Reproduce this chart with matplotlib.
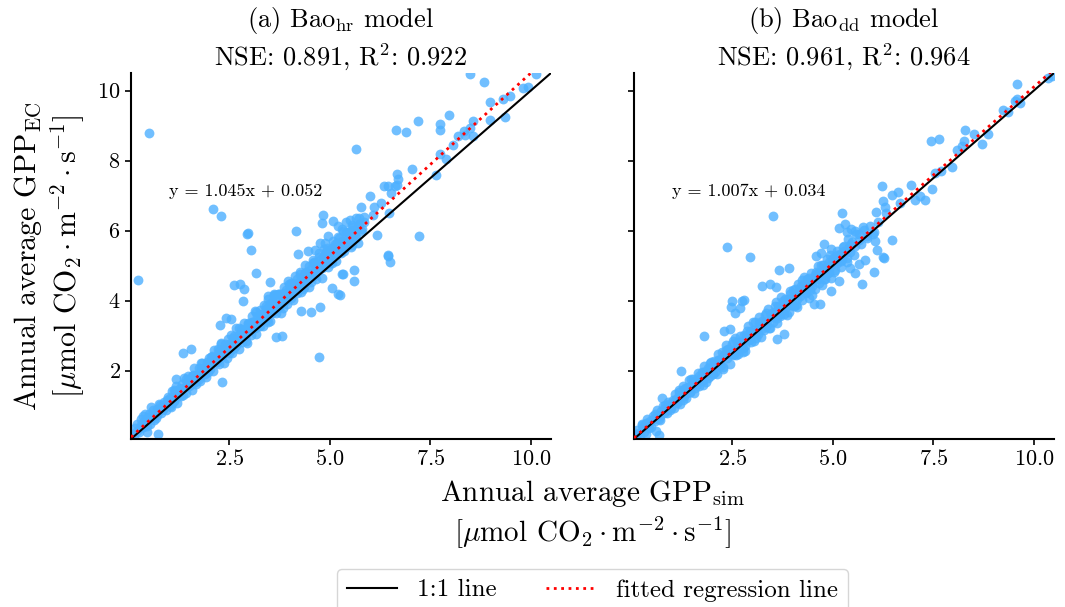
import numpy as np
import matplotlib
matplotlib.use("Agg")
import matplotlib.pyplot as plt
from matplotlib.lines import Line2D

plt.rcParams['font.family'] = 'serif'
plt.rcParams['font.serif'] = ['cmr10']
plt.rcParams['mathtext.fontset'] = 'cm'
plt.rcParams['axes.formatter.use_mathtext'] = True

# (simulated, EC) pairs
band_a = [
    (0.08, 0.19), (0.12, 0.14), (0.15, 0.36), (0.19, 0.27), (0.21, 0.47), (0.26, 0.26), (0.29, 0.45), (0.31, 0.62),
    (0.36, 0.40), (0.37, 0.55), (0.41, 0.75), (0.44, 0.42), (0.46, 0.58), (0.51, 0.75), (0.53, 0.49), (0.57, 0.72),
    (0.59, 0.87), (0.63, 0.70), (0.66, 0.65), (0.69, 0.91), (0.72, 0.82), (0.74, 1.04), (0.79, 0.80), (0.81, 1.00),
    (0.84, 0.92), (0.87, 1.12), (0.91, 0.88), (0.94, 1.08), (0.97, 1.24),
    (1.01, 1.21), (1.03, 0.98), (1.06, 1.41), (1.09, 1.21), (1.11, 1.13), (1.14, 1.42), (1.17, 1.57), (1.19, 1.09),
    (1.23, 1.39), (1.26, 1.50), (1.27, 1.32), (1.31, 1.63), (1.34, 1.32), (1.36, 1.79), (1.39, 1.53), (1.43, 1.35),
    (1.44, 1.69), (1.47, 1.84), (1.51, 1.59), (1.53, 1.72), (1.56, 1.44), (1.59, 1.89), (1.61, 2.07), (1.64, 1.68),
    (1.67, 1.89), (1.71, 1.82), (1.73, 2.08), (1.76, 1.72), (1.79, 2.06), (1.82, 2.23), (1.84, 1.91), (1.87, 2.05),
    (1.91, 1.81), (1.93, 2.25), (1.96, 2.11), (1.99, 2.37),
    (2.01, 2.05), (2.04, 2.38), (2.06, 2.25), (2.09, 1.98), (2.12, 2.58), (2.14, 2.40), (2.17, 2.26), (2.21, 2.61),
    (2.23, 2.19), (2.26, 2.48), (2.28, 2.80), (2.31, 2.43), (2.34, 2.63), (2.37, 2.23), (2.39, 2.75), (2.42, 2.59),
    (2.46, 2.90), (2.48, 2.50), (2.51, 2.75), (2.53, 3.02), (2.57, 2.51), (2.59, 2.79), (2.62, 3.00), (2.64, 2.70),
    (2.67, 3.21), (2.71, 2.99), (2.73, 2.63), (2.76, 2.92), (2.78, 3.20), (2.81, 2.81), (2.84, 3.16), (2.86, 3.36),
    (2.89, 2.97), (2.92, 3.16), (2.94, 2.78), (2.97, 3.33),
    (3.01, 3.25), (3.04, 3.01), (3.06, 3.55), (3.09, 3.40), (3.11, 3.22), (3.14, 3.71), (3.17, 3.06), (3.19, 3.56),
    (3.22, 3.43), (3.25, 3.29), (3.27, 3.72), (3.31, 3.58), (3.33, 3.27), (3.36, 3.88), (3.38, 3.53), (3.41, 3.75),
    (3.44, 3.45), (3.47, 4.06), (3.49, 3.74), (3.52, 3.43), (3.55, 3.96), (3.57, 3.66), (3.61, 3.92), (3.63, 4.17),
    (3.66, 3.65), (3.68, 3.90), (3.71, 4.18), (3.74, 3.81), (3.77, 4.12), (3.79, 3.66), (3.82, 4.09), (3.85, 4.40),
    (3.87, 4.00), (3.91, 4.30), (3.93, 3.90), (3.96, 4.25), (3.98, 4.47),
    (4.01, 4.12), (4.03, 4.51), (4.06, 4.34), (4.09, 4.02), (4.12, 4.71), (4.14, 4.47), (4.17, 4.22), (4.19, 4.62),
    (4.22, 4.40), (4.26, 4.81), (4.28, 4.25), (4.31, 4.68), (4.33, 4.58), (4.36, 4.39), (4.39, 5.02), (4.41, 4.72),
    (4.44, 4.57), (4.47, 4.98), (4.49, 4.38), (4.52, 4.91), (4.55, 4.78), (4.58, 5.15), (4.61, 4.69), (4.63, 5.08),
    (4.66, 4.61), (4.69, 4.98), (4.72, 5.25), (4.74, 4.89), (4.77, 5.18), (4.79, 4.66), (4.83, 5.18), (4.86, 5.47),
    (4.88, 5.09), (4.91, 5.38), (4.94, 4.95), (4.97, 5.30),
    (5.01, 5.44), (5.04, 5.07), (5.07, 5.70), (5.10, 5.33), (5.13, 5.63), (5.16, 5.12), (5.19, 5.55), (5.22, 5.80),
    (5.26, 5.39), (5.29, 5.69), (5.32, 5.98), (5.35, 5.43), (5.38, 5.68), (5.42, 5.96), (5.45, 5.63), (5.49, 5.95),
    (5.52, 5.52), (5.56, 6.17), (5.60, 5.93), (5.64, 5.80), (5.69, 6.17), (5.73, 6.37), (5.78, 6.00), (5.84, 6.26),
    (1.55, 1.70), (1.74, 1.77), (1.95, 2.20), (2.15, 2.27), (2.33, 2.58), (2.55, 2.59), (2.70, 2.93), (2.88, 3.06),
    (3.05, 3.38), (3.21, 3.35), (3.35, 3.63), (3.52, 3.91), (3.69, 3.87), (3.84, 4.18), (3.97, 4.10), (4.11, 4.41),
    (4.24, 4.34), (4.38, 4.79), (4.53, 4.77), (4.65, 5.01), (4.81, 5.00), (4.96, 5.27), (5.12, 5.52), (5.28, 5.51),
    (5.41, 5.78), (0.55, 0.66), (0.85, 0.90), (1.25, 1.41), (1.18, 1.25), (2.44, 2.61), (3.45, 3.61), (4.45, 4.75),
    (0.33, 0.38), (0.48, 0.68), (0.61, 0.59), (0.77, 1.02), (0.89, 1.04), (1.04, 0.96), (1.13, 1.45), (1.21, 1.39),
    (1.29, 1.29), (1.41, 1.77), (1.49, 1.57), (1.57, 1.84), (1.66, 1.61), (1.78, 2.23), (1.86, 2.05), (1.97, 1.97),
    (2.07, 2.42), (2.19, 2.26), (2.29, 2.76), (2.36, 2.53), (2.44, 2.37), (2.58, 2.94), (2.66, 2.74), (2.74, 3.22),
    (2.83, 3.09), (2.91, 2.85), (2.99, 3.33), (3.08, 3.24), (3.15, 3.69), (3.24, 3.28), (3.32, 3.62), (3.40, 3.84),
    (3.46, 3.38), (3.54, 3.83), (3.60, 4.15), (3.70, 3.81), (3.76, 4.19), (3.83, 3.78), (3.89, 4.22), (3.95, 4.56),
    (4.04, 4.09), (4.10, 4.47), (4.18, 4.37), (4.25, 4.76), (4.32, 4.33), (4.40, 4.81), (4.46, 4.75), (4.54, 4.52),
    (4.60, 5.10), (4.67, 4.87), (4.73, 5.37), (4.80, 4.92), (4.87, 5.23), (4.93, 5.51), (5.00, 5.08), (5.06, 5.50),
    (5.14, 5.36), (5.21, 5.81), (5.27, 5.41), (5.34, 5.66), (5.40, 5.96), (5.47, 5.65), (5.55, 6.03), (5.63, 5.89),
    (5.71, 6.11),
    (0.42, 0.60), (0.70, 0.74), (0.95, 1.17), (1.08, 1.08), (1.33, 1.47), (1.46, 1.72), (1.62, 1.69), (1.81, 2.06),
    (1.89, 1.90), (2.03, 2.24), (2.24, 2.57), (2.41, 2.52), (2.49, 2.76), (2.61, 2.65), (2.79, 3.07), (2.96, 3.36),
    (3.13, 3.23), (3.28, 3.50), (3.43, 3.77), (3.58, 3.77), (3.72, 4.19), (3.87, 4.12), (4.00, 4.41), (4.15, 4.28),
    (4.28, 4.63), (4.43, 4.72), (4.57, 5.07), (4.70, 4.92), (4.84, 5.28), (4.99, 5.27), (5.17, 5.65), (5.31, 5.67),
    (5.50, 5.70),
]
outliers_a = [
    (0.51, 8.79), (2.08, 6.63), (2.28, 6.43), (2.93, 5.90), (2.95, 5.92), (3.04, 5.46), (4.15, 6.00), (4.83, 6.45),
    (4.81, 6.22), (5.08, 6.27), (5.20, 6.13), (4.95, 5.84), (4.87, 5.65), (4.75, 5.65), (4.62, 5.46), (4.46, 5.42),
    (4.21, 5.32), (8.48, 10.48), (8.84, 10.25), (10.12, 10.48), (9.92, 10.09), (9.80, 10.06), (9.48, 9.83),
    (9.31, 9.76), (8.99, 9.67), (9.36, 9.23), (8.99, 9.16), (8.55, 9.13), (7.96, 9.29), (7.20, 9.13), (7.73, 9.04),
    (7.73, 8.86), (6.64, 8.86), (6.88, 8.81), (8.49, 8.93), (8.34, 8.85), (8.36, 8.72), (8.55, 8.71), (8.19, 8.71),
    (8.05, 8.45), (5.65, 8.34), (7.74, 8.20), (7.89, 8.04), (7.63, 7.58), (7.05, 7.77), (6.67, 7.63), (6.69, 7.46),
    (6.67, 7.31), (6.34, 7.27), (6.44, 7.27), (6.61, 7.27), (6.53, 7.06), (5.99, 7.00), (6.26, 6.79), (6.09, 6.67),
    (6.07, 6.44), (5.77, 6.67), (6.46, 6.49), (6.17, 5.87), (7.21, 5.84), (6.44, 5.31), (5.30, 6.05), (5.40, 6.25),
    (5.50, 6.30), (5.58, 6.10), (5.65, 6.35), (5.72, 6.20), (5.80, 6.05), (5.85, 6.40), (5.45, 5.75), (5.55, 5.60),
    (5.62, 5.85), (5.70, 5.65), (5.35, 5.50), (5.28, 5.35), (6.45, 5.27), (6.50, 5.09), (5.32, 4.75), (5.60, 4.87),
    (5.59, 4.56), (5.25, 4.16), (0.22, 4.58), (3.16, 4.78), (2.62, 4.44), (2.75, 4.47), (2.87, 4.33), (2.83, 3.99),
    (3.51, 4.52), (3.45, 4.14), (3.62, 4.18), (2.27, 3.31), (2.41, 3.50), (2.54, 3.47), (1.35, 2.51), (1.54, 2.63),
    (1.16, 1.77), (2.31, 1.69), (3.66, 2.97), (3.80, 3.00), (4.73, 2.38), (4.52, 3.68), (4.75, 3.82), (4.29, 3.71),
    (5.04, 4.37), (5.20, 4.18), (5.29, 4.75), (0.72, 0.20), (0.45, 0.25), (0.30, 0.40), (0.35, 0.70), (0.55, 0.95),
]

# (simulated, EC) pairs
band_b = [
    (0.06, 0.16), (0.10, 0.11), (0.13, 0.31), (0.17, 0.23), (0.20, 0.16), (0.24, 0.46), (0.27, 0.36), (0.31, 0.25),
    (0.34, 0.50), (0.38, 0.62), (0.41, 0.40), (0.45, 0.57), (0.48, 0.40), (0.52, 0.71), (0.55, 0.61), (0.58, 0.56),
    (0.62, 0.88), (0.65, 0.73), (0.69, 0.59), (0.72, 0.86), (0.76, 0.98), (0.79, 0.79), (0.83, 0.94), (0.86, 0.80),
    (0.90, 1.10), (0.93, 0.98), (0.97, 0.94),
    (1.01, 1.17), (1.04, 0.93), (1.07, 1.33), (1.10, 1.16), (1.13, 1.09), (1.16, 1.38), (1.20, 1.04), (1.22, 1.32),
    (1.26, 1.55), (1.29, 1.29), (1.32, 1.50), (1.35, 1.21), (1.38, 1.50), (1.42, 1.74), (1.45, 1.39), (1.48, 1.55),
    (1.51, 1.75), (1.54, 1.36), (1.58, 1.72), (1.61, 1.63), (1.64, 1.94), (1.67, 1.57), (1.70, 1.80), (1.74, 1.96),
    (1.77, 1.73), (1.80, 2.14), (1.83, 1.69), (1.86, 1.94), (1.90, 2.09), (1.93, 1.85), (1.96, 2.24), (1.99, 2.03),
    (2.02, 1.91), (2.05, 2.29), (2.08, 2.17), (2.11, 1.90), (2.14, 2.48), (2.17, 2.31), (2.21, 2.17), (2.24, 2.54),
    (2.27, 2.11), (2.30, 2.46), (2.33, 2.72), (2.36, 2.35), (2.40, 2.62), (2.43, 2.19), (2.46, 2.58), (2.49, 2.77),
    (2.52, 2.44), (2.56, 2.92), (2.59, 2.61), (2.62, 2.81), (2.65, 2.47), (2.68, 3.00), (2.72, 2.80), (2.75, 2.64),
    (2.78, 3.02), (2.81, 2.55), (2.84, 2.98), (2.88, 3.28), (2.91, 2.87), (2.94, 3.14), (2.97, 2.81),
    (3.01, 3.15), (3.04, 2.86), (3.07, 3.39), (3.10, 3.16), (3.13, 3.05), (3.16, 3.54), (3.20, 2.96), (3.23, 3.42),
    (3.26, 3.35), (3.29, 3.15), (3.32, 3.60), (3.35, 3.33), (3.39, 3.75), (3.42, 3.21), (3.45, 3.61), (3.48, 3.52),
    (3.51, 3.40), (3.55, 3.85), (3.58, 3.70), (3.61, 3.35), (3.64, 3.86), (3.67, 3.61), (3.71, 4.10), (3.74, 3.80),
    (3.77, 3.61), (3.80, 4.06), (3.83, 3.82), (3.87, 4.05), (3.90, 3.68), (3.93, 4.27), (3.96, 3.88), (3.99, 4.09),
    (4.02, 3.86), (4.05, 4.34), (4.08, 4.16), (4.11, 3.83), (4.14, 4.48), (4.17, 4.13), (4.21, 4.41), (4.24, 4.03),
    (4.27, 4.67), (4.30, 4.36), (4.33, 4.22), (4.36, 4.62), (4.40, 4.09), (4.43, 4.57), (4.46, 4.78), (4.49, 4.43),
    (4.52, 4.61), (4.56, 4.32), (4.59, 4.81), (4.62, 5.00), (4.65, 4.51), (4.68, 4.78), (4.72, 4.46), (4.75, 5.01),
    (4.78, 4.82), (4.81, 4.63), (4.84, 5.18), (4.88, 4.80), (4.91, 5.09), (4.94, 4.64), (4.97, 5.09),
    (5.01, 5.23), (5.05, 4.87), (5.09, 5.43), (5.13, 5.12), (5.17, 5.33), (5.21, 4.95), (5.25, 5.54), (5.29, 5.35),
    (5.34, 5.22), (5.38, 5.76), (5.43, 5.39), (5.48, 5.68), (5.53, 5.31), (5.58, 5.90), (5.64, 5.73), (5.70, 5.62),
    (5.77, 6.01), (5.85, 5.85), (5.93, 6.12), (6.02, 5.96), (6.12, 6.24),
    (1.50, 1.59), (1.72, 1.70), (1.92, 2.06), (2.12, 2.14), (2.35, 2.47), (2.55, 2.49), (2.75, 2.83), (2.95, 3.11),
    (3.12, 3.10), (3.30, 3.36), (3.48, 3.66), (3.66, 3.62), (3.82, 3.92), (3.98, 3.90), (4.15, 4.29), (4.30, 4.30),
    (4.48, 4.54), (4.64, 4.80), (4.80, 4.74), (4.95, 5.03), (5.10, 5.08), (5.28, 5.42), (0.60, 0.67), (0.88, 0.88),
    (1.15, 1.24), (1.35, 1.36), (2.25, 2.35), (3.55, 3.54), (4.38, 4.49),
    (0.29, 0.41), (0.43, 0.37), (0.57, 0.75), (0.70, 0.70), (0.81, 1.03), (0.95, 0.87), (1.06, 1.16), (1.18, 1.44),
    (1.27, 1.15), (1.40, 1.54), (1.47, 1.77), (1.56, 1.52), (1.66, 1.86), (1.76, 1.60), (1.85, 1.93), (1.95, 2.23),
    (2.06, 1.96), (2.15, 2.31), (2.26, 2.04), (2.34, 2.58), (2.42, 2.48), (2.51, 2.85), (2.60, 2.46), (2.69, 2.81),
    (2.77, 2.53), (2.86, 3.12), (2.93, 2.91), (3.02, 3.38), (3.09, 2.93), (3.18, 3.36), (3.27, 3.21), (3.34, 3.66),
    (3.43, 3.23), (3.50, 3.60), (3.59, 3.97), (3.69, 3.57), (3.76, 3.98), (3.85, 3.59), (3.92, 4.06), (4.00, 4.30),
    (4.07, 3.89), (4.16, 4.24), (4.23, 4.59), (4.32, 4.24), (4.41, 4.65), (4.47, 4.17), (4.55, 4.73), (4.63, 4.61),
    (4.70, 5.02), (4.77, 4.61), (4.86, 5.00), (4.93, 5.31), (5.03, 4.81), (5.11, 5.31), (5.19, 5.13), (5.27, 5.55),
    (5.36, 5.10), (5.45, 5.61), (5.55, 5.55), (5.66, 5.90),
    (0.40, 0.50), (0.67, 0.63), (0.92, 1.06), (1.11, 1.11), (1.30, 1.46), (1.44, 1.38), (1.60, 1.69), (1.79, 1.97),
    (1.88, 1.80), (2.00, 2.12), (2.19, 2.17), (2.38, 2.58), (2.47, 2.49), (2.64, 2.78), (2.81, 2.71), (2.99, 3.09),
    (3.15, 3.37), (3.33, 3.29), (3.46, 3.62), (3.62, 3.50), (3.79, 3.87), (3.94, 4.18), (4.10, 4.04), (4.26, 4.44),
    (4.44, 4.30), (4.58, 4.70), (4.72, 4.76), (4.90, 4.82), (5.06, 5.26), (5.22, 5.20), (5.40, 5.54),
]
outliers_b = [
    (3.50, 6.41), (2.36, 5.53), (2.93, 5.26), (5.23, 6.49), (5.16, 6.08), (5.29, 6.18), (4.77, 5.61), (4.95, 5.48),
    (4.70, 5.37), (4.57, 5.27), (9.58, 10.19), (9.57, 9.75), (9.65, 9.64), (9.52, 9.71), (10.35, 10.35),
    (10.46, 10.42), (9.22, 9.43), (9.35, 9.40), (8.29, 8.86), (7.45, 8.57), (7.63, 8.61), (8.52, 8.76), (8.72, 8.48),
    (8.86, 8.76), (8.25, 8.55), (8.21, 8.42), (8.09, 8.31), (7.97, 7.81), (7.55, 7.65), (7.68, 7.69), (7.46, 7.20),
    (6.94, 7.29), (6.63, 7.09), (6.46, 7.03), (6.21, 7.27), (7.05, 6.86), (7.30, 6.87), (7.17, 6.98), (6.67, 6.79),
    (6.25, 6.84), (6.29, 6.68), (6.33, 6.51), (6.07, 6.54), (6.46, 5.73), (6.09, 5.46), (6.25, 5.26), (5.35, 5.95),
    (5.45, 6.05), (5.55, 5.98), (5.75, 6.10), (5.85, 5.80), (6.00, 5.90), (6.05, 5.70), (6.28, 5.21), (6.03, 4.82),
    (5.72, 4.47), (5.56, 4.78), (5.80, 5.15), (5.65, 5.06), (5.42, 4.94), (1.78, 2.99), (1.23, 2.00), (0.75, 1.21),
    (2.50, 3.99), (2.73, 3.99), (2.78, 4.02), (2.46, 3.81), (2.56, 3.64), (2.68, 3.78), (2.29, 3.12), (2.43, 3.19),
    (3.66, 4.87), (3.90, 4.92), (3.23, 4.42), (3.44, 4.47), (3.58, 4.40), (3.77, 3.05), (3.60, 2.90), (4.53, 3.90),
    (4.68, 3.90), (4.95, 4.28), (5.16, 4.56), (0.67, 0.15), (0.59, 0.29), (0.26, 0.49), (0.34, 0.20), (0.09, 0.20),
]

titles = [r'(a) Bao$_{\mathrm{hr}}$ model' + '\n' + r'NSE: 0.891, R$^{2}$: 0.922',
          r'(b) Bao$_{\mathrm{dd}}$ model' + '\n' + r'NSE: 0.961, R$^{2}$: 0.964']
slopes = [1.045, 1.007]
intercepts = [0.052, 0.034]
lims = (0.05, 10.5)
unit = r'[$\mu$mol CO$_2\cdot$m$^{-2}\cdot$s$^{-1}$]'

fig = plt.figure(figsize=(10.65, 6.07), dpi=100)
ax1 = fig.add_axes([131 / 1065, 1 - 439 / 607, 420 / 1065, 366 / 607])
ax2 = fig.add_axes([634 / 1065, 1 - 439 / 607, 420 / 1065, 366 / 607], sharey=ax1)

for ax, pts, extra, title, k, b in zip([ax1, ax2], [band_a, band_b], [outliers_a, outliers_b],
                                       titles, slopes, intercepts):
    data = np.array(pts + extra)
    ax.scatter(data[:, 0], data[:, 1], s=50, color='#4db0ff', alpha=0.8, linewidths=0, zorder=2)
    xx = np.array(lims)
    ax.plot(xx, xx, color='black', lw=1.5, zorder=3)
    ax.plot(xx, k * xx + b, color='red', ls=':', lw=2, zorder=4)
    ax.text(1.0, 7.12, 'y = %.3fx + %.3f' % (k, b), fontsize=13, va='center', ha='left')
    ax.set_xlim(lims)
    ax.set_ylim(lims)
    ax.set_xticks([2.5, 5.0, 7.5, 10.0])
    ax.set_yticks([2, 4, 6, 8, 10])
    ax.tick_params(labelsize=16, width=1.2, length=4)
    ax.spines['top'].set_visible(False)
    ax.spines['right'].set_visible(False)
    ax.spines['left'].set_linewidth(1.5)
    ax.spines['bottom'].set_linewidth(1.5)
    ax.set_title(title, fontsize=19, pad=-3, linespacing=1.25)

ax2.tick_params(labelleft=False)
ax1.set_ylabel(r'Annual average GPP$_{\mathrm{EC}}$' + '\n' + unit, fontsize=21.5, linespacing=1.15)
ax1.yaxis.set_label_coords(-0.105, 0.5)

fig.text(0.5563, 1 - 514 / 607, r'Annual average GPP$_{\mathrm{sim}}$' + '\n' + unit,
         fontsize=21, ha='center', va='center', linespacing=1.2)

handles = [Line2D([], [], color='black', lw=1.5), Line2D([], [], color='red', ls=':', lw=2)]
fig.legend(handles, ['1:1 line', 'fitted regression line'], loc='upper center',
           bbox_to_anchor=(0.5563, 1 - 569 / 607), borderaxespad=0, ncol=2, fontsize=18,
           columnspacing=2.0, frameon=True)

fig.savefig('out.png', dpi=100)
